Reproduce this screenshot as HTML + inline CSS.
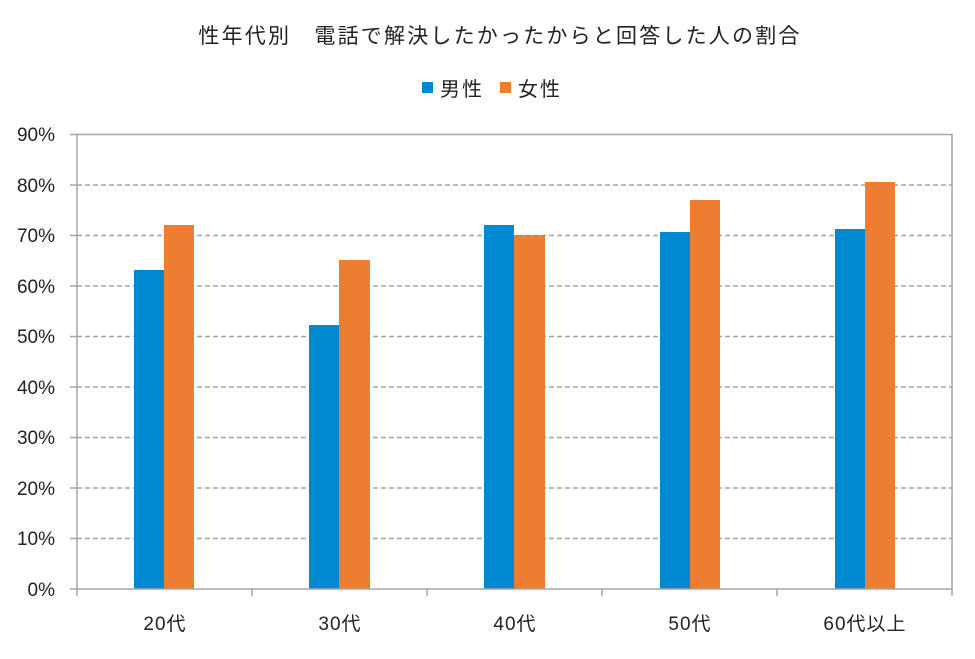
<!DOCTYPE html>
<html><head><meta charset="utf-8"><style>body{margin:0;background:#fff}</style></head><body>
<svg width="975" height="654" xmlns="http://www.w3.org/2000/svg" font-family="Liberation Sans, Noto Sans CJK JP, sans-serif">
<rect width="975" height="654" fill="#fff"/>
<text x="500" y="43" font-size="21" letter-spacing="2.2" text-anchor="middle" fill="#222">性年代別　電話で解決したかったからと回答した人の割合</text>
<rect x="422" y="82" width="11" height="11" fill="#0089D0"/>
<text x="440" y="96" font-size="20" letter-spacing="2" fill="#222">男性</text>
<rect x="500" y="82" width="11" height="11" fill="#ED7D31"/>
<text x="518" y="96" font-size="20" letter-spacing="2" fill="#222">女性</text>
<g stroke="#a6a6a6" stroke-width="1.5" stroke-dasharray="5,3">
<line x1="77" x2="952" y1="185" y2="185"/><line x1="77" x2="952" y1="235.5" y2="235.5"/>
<line x1="77" x2="952" y1="286" y2="286"/><line x1="77" x2="952" y1="336.5" y2="336.5"/>
<line x1="77" x2="952" y1="387" y2="387"/><line x1="77" x2="952" y1="437.5" y2="437.5"/>
<line x1="77" x2="952" y1="488" y2="488"/><line x1="77" x2="952" y1="538.5" y2="538.5"/>
</g>
<g fill="#0089D0">
<rect x="134" y="270" width="30" height="319"/>
<rect x="309" y="325" width="30" height="264"/>
<rect x="484" y="225" width="30" height="364"/>
<rect x="660" y="232" width="30" height="357"/>
<rect x="835" y="229" width="30" height="360"/>
</g>
<g fill="#ED7D31">
<rect x="164" y="225" width="30" height="364"/>
<rect x="339" y="260" width="31" height="329"/>
<rect x="514" y="235" width="31" height="354"/>
<rect x="690" y="200" width="30" height="389"/>
<rect x="865" y="182" width="30" height="407"/>
</g>
<g stroke="#a6a6a6" stroke-width="1.5" fill="none">
<rect x="77" y="134.5" width="875" height="454.5"/>
<line x1="70" x2="77" y1="134.5" y2="134.5"/><line x1="70" x2="77" y1="185" y2="185"/>
<line x1="70" x2="77" y1="235.5" y2="235.5"/><line x1="70" x2="77" y1="286" y2="286"/>
<line x1="70" x2="77" y1="336.5" y2="336.5"/><line x1="70" x2="77" y1="387" y2="387"/>
<line x1="70" x2="77" y1="437.5" y2="437.5"/><line x1="70" x2="77" y1="488" y2="488"/>
<line x1="70" x2="77" y1="538.5" y2="538.5"/><line x1="70" x2="77" y1="589" y2="589"/>
<line x1="77" x2="77" y1="589" y2="596"/><line x1="252" x2="252" y1="589" y2="596"/>
<line x1="427" x2="427" y1="589" y2="596"/><line x1="602" x2="602" y1="589" y2="596"/>
<line x1="777" x2="777" y1="589" y2="596"/><line x1="952" x2="952" y1="589" y2="596"/>
</g>
<g font-size="19" fill="#222" text-anchor="end">
<text x="55" y="141">90%</text><text x="55" y="192">80%</text><text x="55" y="242">70%</text>
<text x="55" y="293">60%</text><text x="55" y="343">50%</text><text x="55" y="394">40%</text>
<text x="55" y="444">30%</text><text x="55" y="495">20%</text><text x="55" y="545">10%</text>
<text x="55" y="596">0%</text>
</g>
<g font-size="19" fill="#222" text-anchor="middle" letter-spacing="1">
<text x="165" y="630">20代</text><text x="340" y="630">30代</text><text x="515" y="630">40代</text>
<text x="690" y="630">50代</text><text x="865" y="630">60代以上</text>
</g>
</svg>
</body></html>
